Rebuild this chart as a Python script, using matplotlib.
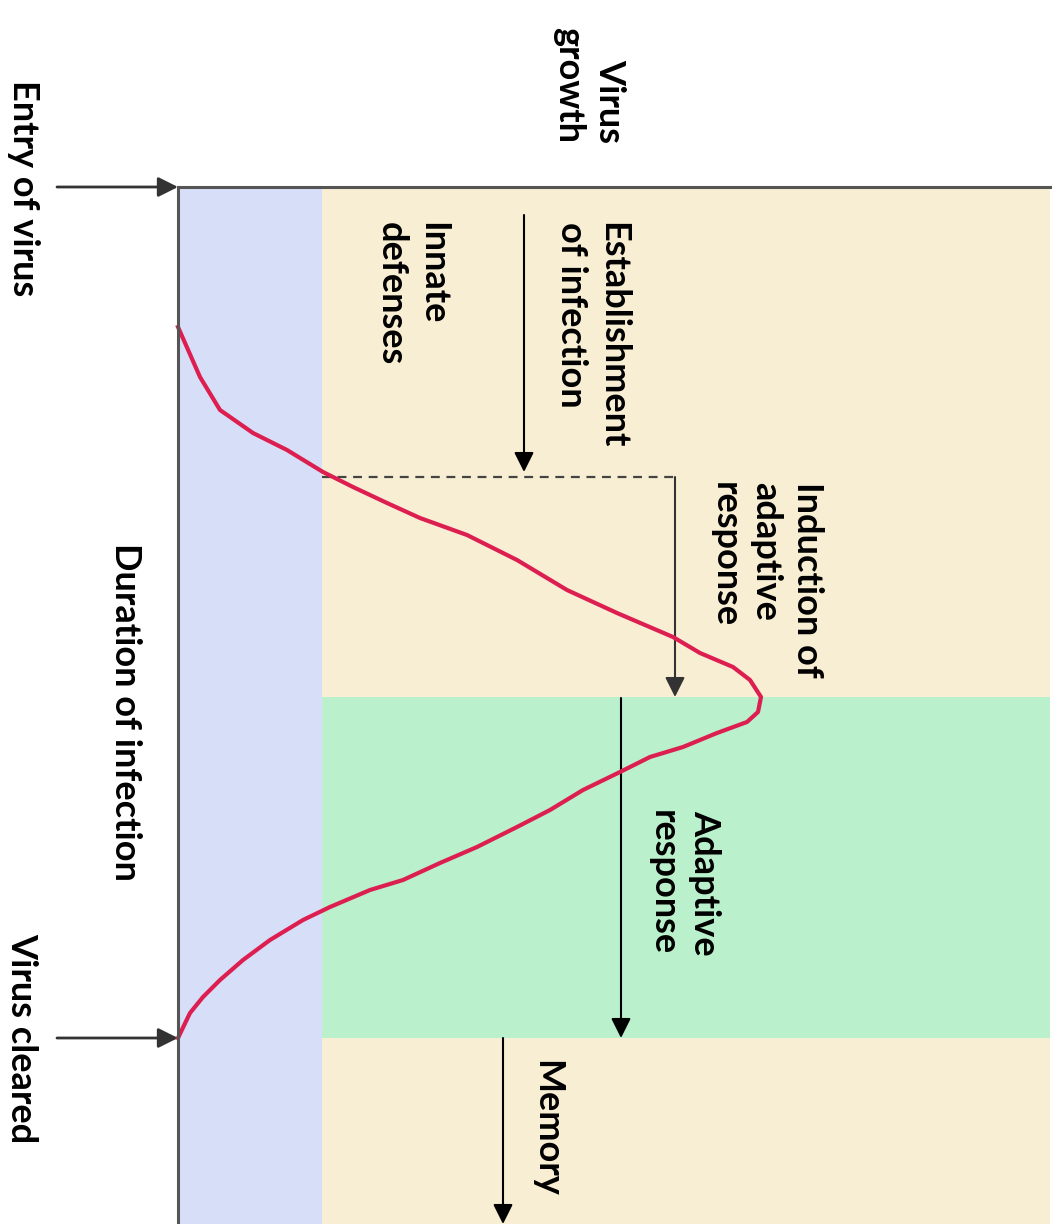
import matplotlib.pyplot as plt

# time runs downwards, virus level to the right (diagram is drawn rotated)
t_max = 103.7
level_max = 87.2
innate_edge = 14.4
t_adapt = 51.0
t_clear = 85.1

# virus growth curve
curve_t = [14.0, 19.0, 22.3, 24.6, 26.3, 28.5, 30.0, 31.6, 33.1, 34.8, 37.3, 40.3,
           42.6, 45.0, 46.6, 48.0, 49.3, 51.0, 52.5, 53.5, 54.6, 56.0, 57.0, 58.5,
           60.3, 62.3, 64.0, 66.0, 67.6, 69.3, 70.3, 72.0, 73.3, 75.3, 77.3, 79.3,
           81.0, 82.6, 85.1]
curve_v = [0.0, 2.2, 4.2, 7.5, 10.9, 14.5, 17.5, 20.9, 24.2, 28.9, 33.9, 38.9,
           43.9, 49.5, 52.2, 55.5, 57.2, 58.3, 58.0, 56.9, 53.9, 50.5, 47.2, 44.2,
           40.5, 37.2, 33.9, 29.9, 26.2, 22.5, 19.2, 15.2, 12.5, 9.2, 6.5, 4.2,
           2.5, 1.2, 0.0]

c_blue = '#d6dff7'
c_beige = '#f8eed3'
c_green = '#baf0cc'
c_red = '#dc1f50'
c_axis = '#555555'

plt.rcParams['font.family'] = ['Lato', 'DejaVu Sans']
plt.rcParams['font.weight'] = 'bold'

fig = plt.figure(figsize=(10.62, 12.24), dpi=100)
ax = fig.add_axes([178 / 1062, 0, 872 / 1062, 1037 / 1224])
ax.set_xlim(0, level_max)
ax.set_ylim(t_max, 0)
ax.set_facecolor(c_beige)
ax.set_xticks([])
ax.set_yticks([])
for s in ['right', 'bottom']:
    ax.spines[s].set_visible(False)
for s in ['left', 'top']:
    ax.spines[s].set_color(c_axis)
    ax.spines[s].set_linewidth(2.2)
    ax.spines[s].set_zorder(5)

ax.axvspan(0, innate_edge, color=c_blue, lw=0)
ax.fill_betweenx([t_adapt, t_clear], innate_edge, level_max, color=c_green, lw=0)

ax.plot(curve_v, curve_t, color=c_red, lw=3, zorder=4, clip_on=False)

arr = dict(arrowstyle='-|>', color='black', lw=1.5, mutation_scale=30, shrinkA=0, shrinkB=0)
fs = 26
ls = 1.3

# entry / cleared arrows on the left
for t in [0, t_clear]:
    ax.annotate('', xy=(0, t), xytext=(-12.1, t), arrowprops=dict(arr, color='#333333', lw=2),
                annotation_clip=False)
ax.text(-15.5, 0.1, 'Entry of virus', rotation=-90, ha='center', va='center', fontsize=fs,
        clip_on=False)
ax.text(-15.6, t_clear, 'Virus cleared', rotation=-90, ha='center', va='center', fontsize=fs,
        clip_on=False)
ax.text(-5.3, 52.5, 'Duration of infection', rotation=-90, ha='center', va='center', fontsize=fs,
        clip_on=False)
ax.text(41.1, -4.4, 'Virus\ngrowth', rotation=-90, ha='center', va='bottom', fontsize=fs,
        multialignment='right', linespacing=ls, clip_on=False)

# establishment of infection
ax.annotate('', xy=(34.6, 28.5), xytext=(34.6, 2.8), arrowprops=arr)
ax.text(41.4, 3.5, 'Establishment\nof infection', rotation=-90, ha='center', va='top',
        fontsize=fs, multialignment='left', linespacing=ls)
ax.text(23.4, 3.5, 'Innate\ndefenses', rotation=-90, ha='center', va='top',
        fontsize=fs, multialignment='left', linespacing=ls)

# induction of adaptive response
ax.plot([innate_edge, 49.7], [29.0, 29.0], ls=(0, (4, 3)), color='#444444', lw=1.6)
ax.annotate('', xy=(49.7, t_adapt), xytext=(49.7, 29.0), arrowprops=dict(arr, color='#333333'))
ax.text(58.8, 29.5, 'Induction of\nadaptive\nresponse', rotation=-90, ha='center', va='top',
        fontsize=fs, multialignment='left', linespacing=ls)

# adaptive response
ax.annotate('', xy=(44.3, t_clear), xytext=(44.3, t_adapt + 0.1), arrowprops=arr)
ax.text(50.6, 62.3, 'Adaptive\nresponse', rotation=-90, ha='center', va='top',
        fontsize=fs, multialignment='left', linespacing=ls)

# memory
ax.annotate('', xy=(32.5, t_max), xytext=(32.5, t_clear), arrowprops=arr,
            annotation_clip=False)
ax.text(36.9, 87.3, 'Memory', rotation=-90, ha='center', va='top', fontsize=fs)

fig.savefig('out.png', dpi=100)
